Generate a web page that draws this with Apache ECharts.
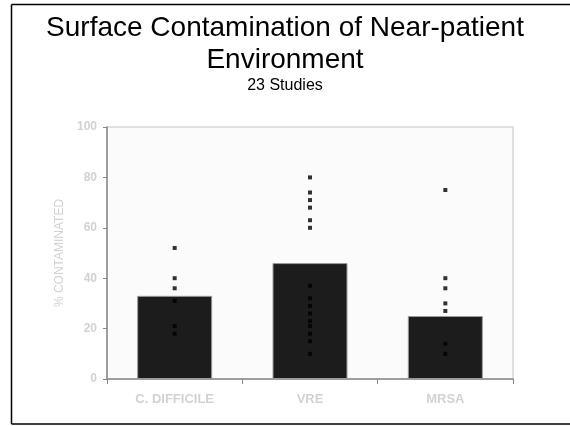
<!DOCTYPE html>
<html><head><meta charset="utf-8">
<script src="https://cdn.jsdelivr.net/npm/echarts@6/dist/echarts.min.js"></script>
<style>html,body{margin:0;padding:0;background:#fff;overflow:hidden}#c{width:570px;height:426px}</style>
</head><body><div id="c"></div>
<script>
var categories = ['C. DIFFICILE', 'VRE', 'MRSA'];
var meanValues = [33, 46, 25];
var cdiffStudies = [52, 40, 36, 31, 21, 18];
var vreStudies = [80, 74, 71, 68, 63, 60, 37, 32, 29, 26, 23, 21, 18, 15, 10];
var mrsaStudies = [75, 40, 36, 30, 27, 14, 10];
var studyGroups = [cdiffStudies, vreStudies, mrsaStudies];

var scatterData = [];
studyGroups.forEach(function (g, i) {
  g.forEach(function (v) { scatterData.push([categories[i], v]); });
});

var frameStyle = {stroke: '#000', lineWidth: 1.5};
var chart = echarts.init(document.getElementById('c'), null, {renderer: 'canvas'});
chart.setOption({
  animation: false,
  backgroundColor: '#fff',
  graphic: [
    {type: 'line', shape: {x1: 11.5, y1: 4.5, x2: 570, y2: 4.5}, style: frameStyle},
    {type: 'line', shape: {x1: 11.5, y1: 4.5, x2: 11.5, y2: 424}, style: frameStyle},
    {type: 'line', shape: {x1: 11.5, y1: 424, x2: 570, y2: 424}, style: frameStyle}
  ],
  title: {
    text: 'Surface Contamination of Near-patient\nEnvironment',
    subtext: '23 Studies',
    left: 'center',
    top: 7,
    itemGap: 2,
    textStyle: {fontFamily: 'Liberation Sans, Arial', fontSize: 28, fontWeight: 'normal', color: '#000', lineHeight: 32},
    subtextStyle: {fontFamily: 'Liberation Sans, Arial', fontSize: 16, color: '#000'}
  },
  grid: {left: 107, right: 57, top: 127, bottom: 47, show: true, backgroundColor: '#fbfbfb', borderColor: '#d6d6d6', borderWidth: 1.5},
  xAxis: {
    type: 'category', data: categories,
    axisLine: {lineStyle: {color: '#888', width: 1.5}},
    axisTick: {show: true, length: 5, lineStyle: {color: '#888'}},
    axisLabel: {margin: 14, color: '#d2d2d2', fontWeight: 'bold', fontSize: 13, fontFamily: 'Liberation Sans, Arial'}
  },
  yAxis: {
    type: 'value', min: 0, max: 100, interval: 20,
    name: '% CONTAMINATED', nameLocation: 'middle', nameGap: 38, nameRotate: 90,
    nameTextStyle: {color: '#d2d2d2', fontSize: 12, fontFamily: 'Liberation Sans, Arial'},
    axisLine: {show: true, lineStyle: {color: '#888', width: 1.5}},
    axisTick: {show: true, length: 4, lineStyle: {color: '#888'}},
    splitLine: {show: false},
    axisLabel: {margin: 10, color: '#d2d2d2', fontWeight: 'bold', fontSize: 12, fontFamily: 'Liberation Sans, Arial'}
  },
  series: [{
    type: 'bar', data: meanValues, barWidth: 75,
    itemStyle: {color: '#1c1c1c', borderColor: '#9a9a9a', borderWidth: 1}
  }, {
    type: 'scatter', data: scatterData, symbol: 'rect', symbolSize: 4,
    itemStyle: {color: '#000'}, z: 5
  }]
});
</script></body></html>
